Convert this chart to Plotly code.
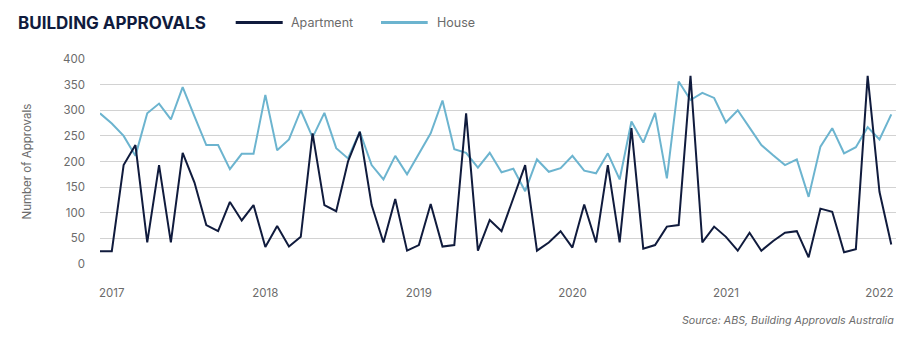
import plotly.graph_objects as go

# Building approvals per period (number of approvals)
apartment = [25, 25, 193, 232, 42, 193, 42, 217, 159, 76,
             64, 121, 85, 115, 33, 74, 34, 53, 255, 115,
             103, 200, 258, 115, 42, 127, 26, 37, 117, 34,
             37, 294, 26, 86, 64, 128, 193, 26, 42, 64,
             32, 116, 42, 193, 42, 265, 30, 37, 73, 76,
             367, 42, 73, 53, 26, 61, 26, 45, 61, 64,
             13, 108, 102, 23, 29, 367, 141, 38]
house = [294, 274, 250, 211, 294, 313, 282, 345, 288, 232,
         232, 185, 215, 215, 330, 222, 243, 300, 247, 295,
         226, 206, 258, 193, 165, 211, 175, 215, 255, 319,
         224, 217, 188, 217, 179, 186, 142, 204, 180, 187,
         211, 182, 177, 216, 165, 278, 237, 295, 167, 356,
         320, 334, 324, 276, 300, 266, 232, 212, 193, 204,
         131, 229, 265, 216, 228, 267, 243, 292]
periods = list(range(len(apartment)))

# Year labels and the periods they sit under
year_labels = ["2017", "2018", "2019", "2020", "2021", "2022"]
year_periods = [1, 14, 27, 40, 53, 66]

y_ticks = [0, 50, 100, 150, 200, 250, 300, 350, 400]

NAVY = "#101b3d"
BLUE = "#6cb4cf"
GREY_TXT = "#6b6b6b"
FONT = "Inter, Open Sans, sans-serif"

fig = go.Figure()
fig.add_trace(go.Scatter(x=periods, y=house, mode="lines", name="House",
                         line=dict(color=BLUE, width=2)))
fig.add_trace(go.Scatter(x=periods, y=apartment, mode="lines", name="Apartment",
                         line=dict(color=NAVY, width=2)))

L, R, T, B = 100, 19, 59, 77
W, H = 915, 341
pw, ph = W - L - R, H - T - B


def px_x(px):
    return (px - L) / pw


def px_y(py):
    return (H - B - py) / ph


fig.update_layout(
    width=W, height=H,
    margin=dict(l=L, r=R, t=T, b=B),
    paper_bgcolor="white", plot_bgcolor="white",
    showlegend=False,
    font=dict(family=FONT, color=GREY_TXT),
    title=dict(text="<b>BUILDING APPROVALS</b>", x=18 / W, xref="container",
               xanchor="left", y=1 - 23 / H, yref="container", yanchor="middle",
               font=dict(size=17, color=NAVY, family=FONT)),
    xaxis=dict(range=[0, 67.4], tickmode="array", tickvals=year_periods,
               ticktext=year_labels, showgrid=False, zeroline=False,
               showline=False, ticks="", ticklabelstandoff=20,
               tickfont=dict(size=11.5, color=GREY_TXT)),
    yaxis=dict(range=[0, 400], tickmode="array", tickvals=y_ticks,
               showgrid=True, gridcolor="#d2d2d2", gridwidth=1,
               zeroline=False, showline=False, ticks="",
               ticklabelstandoff=14,
               tickfont=dict(size=11.5, color=GREY_TXT)),
)

# Legend drawn as line samples with labels beside them
legend_items = [("Apartment", NAVY, 235.7, 282.7, 289),
                ("House", BLUE, 381, 427.7, 435)]
for name, color, x0, x1, tx in legend_items:
    fig.add_shape(type="line", xref="paper", yref="paper",
                  x0=px_x(x0), x1=px_x(x1), y0=px_y(22.5), y1=px_y(22.5),
                  line=dict(color=color, width=3))
    fig.add_annotation(text=name, xref="paper", yref="paper",
                       x=px_x(tx), y=px_y(22), xanchor="left", yanchor="middle",
                       showarrow=False, font=dict(size=12.5, color=GREY_TXT))

fig.add_annotation(text="Number of Approvals", xref="paper", yref="paper",
                   x=px_x(26), y=0.5, xanchor="center", yanchor="middle",
                   textangle=-90, showarrow=False,
                   font=dict(size=11.5, color=GREY_TXT))

fig.add_annotation(text="<i>Source: ABS, Building Approvals Australia</i>",
                   xref="paper", yref="paper", x=px_x(896), y=px_y(320.5),
                   xanchor="right", yanchor="middle", showarrow=False,
                   font=dict(size=10.7, color=GREY_TXT))

fig.write_html("out.html")
